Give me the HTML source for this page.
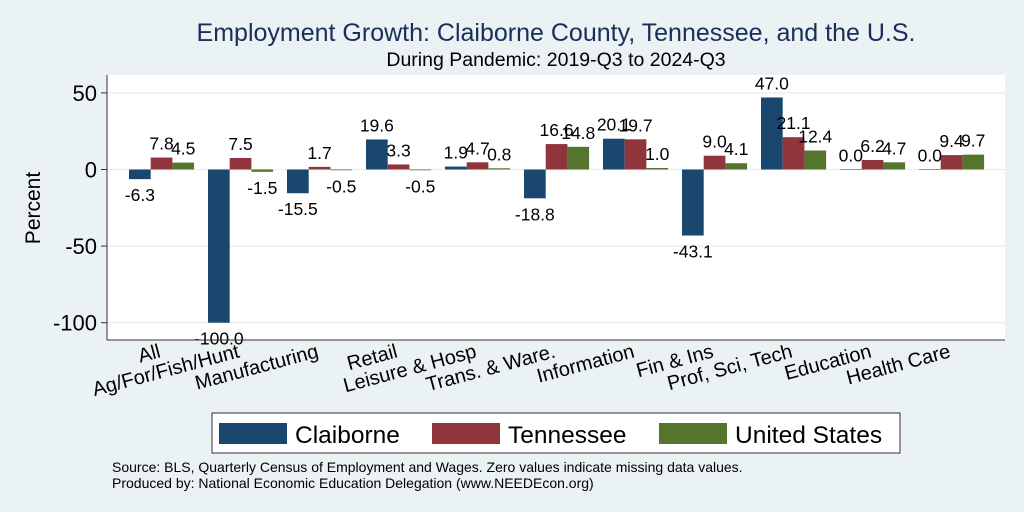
<!DOCTYPE html>
<html><head><meta charset="utf-8"><style>
body{margin:0;background:#eaf2f3;}
svg{display:block;font-family:"Liberation Sans",Arial,sans-serif;}
</style></head><body>
<svg id="c" width="1024" height="512">
<rect x="0" y="0" width="1024" height="512" fill="#eaf2f3"/>
<text x="556" y="41" font-size="25" fill="#1a2e5a" text-anchor="middle">Employment Growth: Claiborne County, Tennessee, and the U.S.</text>
<text x="556" y="66" font-size="19.5" fill="#000" text-anchor="middle">During Pandemic: 2019-Q3 to 2024-Q3</text>
<rect x="107" y="75" width="898" height="265" fill="#fff"/>
<g id="grid"></g><g id="bars"></g><g id="labels"></g>
<line x1="107" y1="75" x2="107" y2="340" stroke="#333" stroke-width="1"/>
<line x1="107" y1="340" x2="1005" y2="340" stroke="#333" stroke-width="1"/>
<text transform="translate(40,208) rotate(-90)" font-size="21" text-anchor="middle">Percent</text>
<g>
<rect x="212" y="413" width="688" height="40" fill="#fff" stroke="#333" stroke-width="1"/>
<rect x="219" y="423" width="68" height="21" fill="#1a476f"/>
<text x="295" y="443" font-size="24.5">Claiborne</text>
<rect x="432" y="423" width="68" height="21" fill="#90353b"/>
<text x="508" y="443" font-size="24.5">Tennessee</text>
<rect x="659" y="423" width="68" height="21" fill="#55752f"/>
<text x="735" y="443" font-size="24.5">United States</text>
</g>
<text x="112" y="472" font-size="14">Source: BLS, Quarterly Census of Employment and Wages. Zero values indicate missing data values.</text>
<text x="112" y="488" font-size="14">Produced by: National Economic Education Delegation (www.NEEDEcon.org)</text>
</svg>
<script>
const categories=["All","Ag/For/Fish/Hunt","Manufacturing","Retail","Leisure & Hosp","Trans. & Ware.","Information","Fin & Ins","Prof, Sci, Tech","Education","Health Care"];
const claiborne=[-6.3,-100.0,-15.5,19.6,1.9,-18.8,20.1,-43.1,47.0,0.0,0.0];
const tennessee=[7.8,7.5,1.7,3.3,4.7,16.6,19.7,9.0,21.1,6.2,9.4];
const unitedStates=[4.5,-1.5,-0.5,-0.5,0.8,14.8,1.0,4.1,12.4,4.7,9.7];
const yTicks=[50,0,-50,-100];
const NS="http://www.w3.org/2000/svg";
function y(v){return 169.5-v*76.6/50;}
function gx(i){return 129+i*79;}
const bw=21.7;
const grid=document.getElementById('grid'),bars=document.getElementById('bars'),labels=document.getElementById('labels');
function mk(tag,attrs,parent){const e=document.createElementNS(NS,tag);for(const k in attrs)e.setAttribute(k,attrs[k]);parent.appendChild(e);return e;}
yTicks.forEach(t=>{
  const l=mk('line',{x1:107,x2:1005,y1:y(t),y2:y(t),stroke:'#e6eef0','stroke-width':1.2},grid);
  
  
  const tk=mk('line',{x1:101,x2:107,y1:y(t),y2:y(t),stroke:'#333'},grid);
  
  
  const tx=mk('text',{x:97,y:y(t)+8,'font-size':22,'text-anchor':'end'},grid);
  tx.textContent=t;
  
  
});
const series=[[claiborne,'#1a476f','claiborne'],[tennessee,'#90353b','tennessee'],[unitedStates,'#55752f','us']];
categories.forEach((c,i)=>{
  series.forEach(([arr,col,nm],s)=>{
    const v=arr[i],x=gx(i)+s*bw;
    const r=mk('rect',{x:x,y:Math.min(y(v),y(0)),width:bw,height:Math.max(Math.abs(y(v)-y(0)),0.5),fill:col},bars);
    
    
    const ty=v>=0?y(v)-8:y(v)+22;
    const t=mk('text',{x:x+bw/2,y:ty,'font-size':17.5,'text-anchor':'middle'},labels);
    t.textContent=v.toFixed(1);
    
    
  });
  const cx=gx(i)+1.5*bw, cy=357;
  const t=mk('text',{x:cx,y:cy,'font-size':20,'text-anchor':'end',transform:`rotate(-15 ${cx} ${cy})`},labels);
  t.textContent=c;
  
  
});
</script>
</body></html>
